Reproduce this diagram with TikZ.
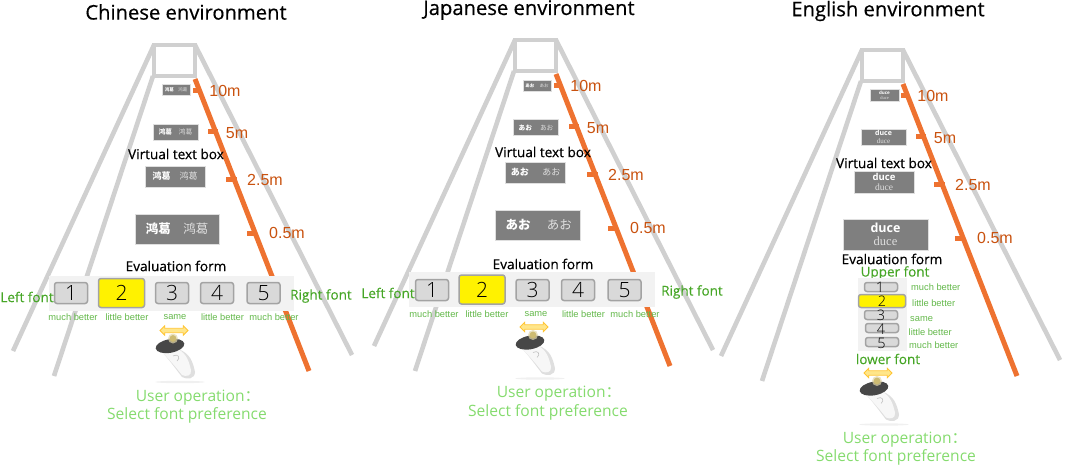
\documentclass[tikz,border=0pt]{standalone}
\usepackage{fontspec}
\usepackage{xcolor}
\usepackage{tikz}
\usetikzlibrary{shapes,arrows,positioning,calc}
\setmainfont{Open Sans}
\newfontfamily\titlefont[FakeBold=0.5]{Open Sans}
\newfontfamily\sidesans[FakeBold=0.25]{Open Sans}
\newfontfamily\digitfont{Open Sans Light}
\newfontfamily\cjk{Noto Sans CJK SC}
\newfontfamily\cjkjp{Noto Sans CJK JP}
\newfontfamily\smallsans{Liberation Sans}
\newfontfamily\serifduce{Liberation Serif}
\definecolor{framegray}{HTML}{D0D0D0}
\definecolor{roadorange}{HTML}{EE7230}
\definecolor{distred}{HTML}{C9520F}
\definecolor{boxgray}{HTML}{7F7F7F}
\definecolor{formgray}{HTML}{F2F2F2}
\definecolor{fontgreen}{HTML}{46A626}
\definecolor{notegreen}{HTML}{63B84A}
\definecolor{opgreen}{HTML}{85DB6E}
\definecolor{btnedge}{HTML}{A3A3A3}
\definecolor{slideedge}{HTML}{FFC533}
\definecolor{slidefill}{HTML}{FFE68A}
\definecolor{stickcol}{HTML}{CDBB72}
\tikzset{
  title/.style={inner sep=0pt,font=\titlefont\fontsize{20.2}{20.2}\selectfont},
  caption/.style={inner sep=0pt,font=\titlefont\fontsize{13.6}{13.6}\selectfont},
  distlabel/.style={text=distred,inner sep=0pt,font=\smallsans\fontsize{16}{16}\selectfont},
  sidefont/.style={text=fontgreen,inner sep=0pt,font=\sidesans\fontsize{13.5}{13.5}\selectfont},
  note/.style={text=notegreen,inner sep=0pt,font=\smallsans\fontsize{9.3}{9.3}\selectfont},
  operation/.style={text=opgreen,inner sep=0pt,font=\fontsize{15.6}{15.6}\selectfont},
  vbox/.style={draw=gray!25,line width=0.6pt,fill=boxgray,text=white,inner sep=0pt,align=center},
  btn/.style={draw=btnedge,fill=gray!30,line width=1.5pt,rounded corners=2.5pt,inner sep=0pt,minimum width=33pt,minimum height=21pt,font=\digitfont\fontsize{21}{21}\selectfont},
  btnsel/.style={btn,fill=yellow,minimum width=46pt,minimum height=29pt},
  formbg/.style={fill=formgray,inner sep=0pt},
  slider/.style={shape=double arrow,draw=slideedge,fill=slidefill,line width=0.8pt,inner sep=1.8pt,minimum height=28pt,minimum width=9.5pt,double arrow head extend=2.5pt},
  frameline/.style={draw=framegray,line width=4.6pt},
  roadline/.style={draw=roadorange,line width=5pt}
}
% viewing frame with the distance scale
\newcommand{\roadframe}[1]{
  \draw[frameline] (154,45) rectangle (195,76);
  \draw[frameline] (154,45) -- (13,351);
  \draw[frameline] (153,76) -- (54,376);
  \draw[frameline] (195,45) -- (352,355);
  \draw[roadline] (195,79) -- (309,371);
  \foreach \i/\xa/\xb/\yt/\lx/\ly/\lab in {10/193/200/91/225/91/10m,5/208/218/131.5/237/133/5m,2/226/237/179/265/180/2.5m,0/247/257/233/287/233/0.5m} {
    \draw[roadorange,line width=5pt] (\xa,\yt) -- (\xb,\yt);
    \node[distlabel] (#1d\i) at (\lx,\ly) {\lab};
  }
}
% hand controller
\newcommand{\handset}{
  \fill[gray!12] (180,382) ellipse (25 and 1.2);
  \fill[gray!25] (160,350) .. controls (168,358) and (175,368) .. (182,377) .. controls (187,380) and (195,379) .. (195,372) .. controls (193,362) and (190,353) .. (178,349) -- cycle;
  \fill[gray!6] (160,350) .. controls (168,358) and (175,366) .. (182,375) .. controls (186,377) and (192,376) .. (191,370) .. controls (189,362) and (187,354) .. (178,349) -- cycle;
  \fill[black!72,rotate around={10:(170,346)}] (170,346) ellipse (14.5 and 6.8);
  \fill[stickcol!60,opacity=.7] (173,338.5) circle (5);
  \fill[stickcol] (173,338.5) circle (3.4);
  \draw[gray!50,line width=0.6pt] (173,356) .. controls (178,353) and (181,358) .. (177,361);
}
\begin{document}
\begin{tikzpicture}[x=1pt,y=-1pt]
\useasboundingbox (0,0) rectangle (1065,468);

% Chinese
\node[title] (ctitle) at (186,12) {Chinese environment};
\roadframe{c}
\node[vbox,minimum width=28pt,minimum height=11pt,font=\cjk\fontsize{4.5}{4.5}\selectfont] (cbox10) at (176,90) {\textbf{鸿葛}\hspace{1em}{\color{gray!25}鸿葛}};
\node[vbox,minimum width=45pt,minimum height=16pt,font=\cjk\fontsize{6.7}{6.7}\selectfont] (cbox5) at (175.5,132) {\textbf{鸿葛}\hspace{1em}{\color{gray!25}鸿葛}};
\node[vbox,minimum width=60pt,minimum height=21pt,font=\cjk\fontsize{9}{9}\selectfont] (cbox2) at (175,176.5) {\textbf{鸿葛}\hspace{1em}{\color{gray!25}鸿葛}};
\node[vbox,minimum width=84pt,minimum height=30pt,font=\cjk\fontsize{12.5}{12.5}\selectfont] (cbox0) at (177,229) {\textbf{鸿葛}\hspace{1em}{\color{gray!25}鸿葛}};
\node[caption] (cvirtual) at (176,154) {Virtual text box};
\node[caption] (ceval) at (176,266) {Evaluation form};
\node[formbg,minimum width=245pt,minimum height=35pt] (cform) at (171.5,293.5) {};
\foreach \n/\x in {1/71,3/172,4/217,5/263.5} {
  \node[btn] (cbtn\n) at (\x,293) {\n};
}
\node[btnsel] (cbtn2) at (121.5,293) {2};
\node[sidefont] (cleft) at (27,297) {Left font};
\node[sidefont] (cright) at (321,296) {Right font};
\foreach \n/\x/\lab in {1/73/much better,2/127/little better,3/175/same,4/222.5/little better,5/274/much better} {
  \node[note] (cnote\n) at (\x,317) {\lab};
}
\node[slider] (cslide) at (174,330.5) {};
\handset
\node[operation] (cop) at (198,398) {User operation{\cjk：}};
\node[operation] (csel) at (187,415) {Select font preference};

% Japanese
\node[title] (jtitle) at (529,10) {Japanese environment};
\begin{scope}[shift={(361,-5)}]
\roadframe{j}
\end{scope}
\node[vbox,minimum width=28pt,minimum height=11pt,font=\cjkjp\fontsize{4.5}{4.5}\selectfont] (jbox10) at (537,86) {\textbf{あお}\hspace{1.2em}{\color{gray!25}あお}};
\node[vbox,minimum width=45pt,minimum height=16pt,font=\cjkjp\fontsize{6.7}{6.7}\selectfont] (jbox5) at (536,127.5) {\textbf{あお}\hspace{1.2em}{\color{gray!25}あお}};
\node[vbox,minimum width=60pt,minimum height=21pt,font=\cjkjp\fontsize{9}{9}\selectfont] (jbox2) at (535.5,172.5) {\textbf{あお}\hspace{1.5em}{\color{gray!25}あお}};
\node[vbox,minimum width=85pt,minimum height=30pt,font=\cjkjp\fontsize{12.5}{12.5}\selectfont] (jbox0) at (537.5,225) {\hspace{.2em}\textbf{あお}\hspace{1.3em}{\color{gray!25}あお}};
\node[caption] (jvirtual) at (543,152) {Virtual text box};
\node[caption] (jeval) at (543,264) {Evaluation form};
\node[formbg,minimum width=246pt,minimum height=35pt] (jform) at (532,289.5) {};
\foreach \n/\x in {1/432,3/532.5,4/578,5/624.5} {
  \node[btn] (jbtn\n) at (\x,290) {\n};
}
\node[btnsel] (jbtn2) at (482,289.5) {2};
\node[sidefont] (jleft) at (388,293) {Left font};
\node[sidefont] (jright) at (692,292) {Right font};
\foreach \n/\x/\lab in {1/434/much better,2/487/little better,3/536/same,4/583.5/little better,5/635/much better} {
  \node[note] (jnote\n) at (\x,314) {\lab};
}
\node[slider] (jslide) at (534,327) {};
\begin{scope}[shift={(360,-3.5)}]
\handset
\end{scope}
\node[operation] (jop) at (559,394) {User operation{\cjk：}};
\node[operation] (jsel) at (548,412) {Select font preference};

% English
\node[title] (etitle) at (888,11) {English environment};
\begin{scope}[shift={(708,5)}]
\roadframe{e}
\end{scope}
\node[vbox,minimum width=29pt,minimum height=12pt,font=\fontsize{4.5}{5}\selectfont] (ebox10) at (884.5,95) {\textbf{duce}\\[-.3pt]{\serifduce\color{gray!25}duce}};
\node[vbox,minimum width=45pt,minimum height=16pt,font=\fontsize{7}{8.5}\selectfont] (ebox5) at (883.5,137) {\textbf{duce}\\{\serifduce\color{gray!25}duce}};
\node[vbox,minimum width=60pt,minimum height=22pt,font=\fontsize{9.5}{10}\selectfont] (ebox2) at (884,182) {\textbf{duce}\\{\serifduce\color{gray!25}duce}};
\node[vbox,minimum width=85pt,minimum height=31pt,font=\fontsize{12.5}{13.5}\selectfont] (ebox0) at (885.5,234.5) {\textbf{duce}\\{\serifduce\color{gray!25}duce}};
\node[caption] (evirtual) at (884,163) {Virtual text box};
\node[caption] (eeval) at (892,259) {Evaluation form};
\node[sidefont] (eupper) at (895,273) {Upper font};
\node[formbg,minimum width=49pt,minimum height=73pt] (eform) at (882.5,314.5) {};
\foreach \n/\x/\y in {1/881/287,3/881/315,4/882/328,5/882/342} {
  \node[btn,minimum width=33pt,minimum height=9pt] (ebtn\n) at (\x,\y) {};
}
\node[btn,fill=yellow,minimum width=47pt,minimum height=13pt] (ebtn2) at (882,301) {};
\foreach \n/\x/\y in {1/880/287,2/882/301,3/881/315,4/881/329,5/881.5/343} {
  \node[inner sep=0pt,font=\digitfont\fontsize{14.5}{14.5}\selectfont] (edig\n) at (\x,\y) {\n};
}
\foreach \n/\x/\y/\lab in {1/911/287/much better,2/912/303/little better,3/910/319/same,4/908.5/332/little better,5/909/345/much better} {
  \node[note,anchor=west] (enote\n) at (\x,\y) {\lab};
}
\node[sidefont] (elower) at (888,359) {lower font};
\node[slider] (eslide) at (878,373) {};
\begin{scope}[shift={(704,42.5)}]
\handset
\end{scope}
\node[operation] (eop) at (905,440) {User operation{\cjk：}};
\node[operation] (esel) at (896,457) {Select font preference};
\end{tikzpicture}
\end{document}
